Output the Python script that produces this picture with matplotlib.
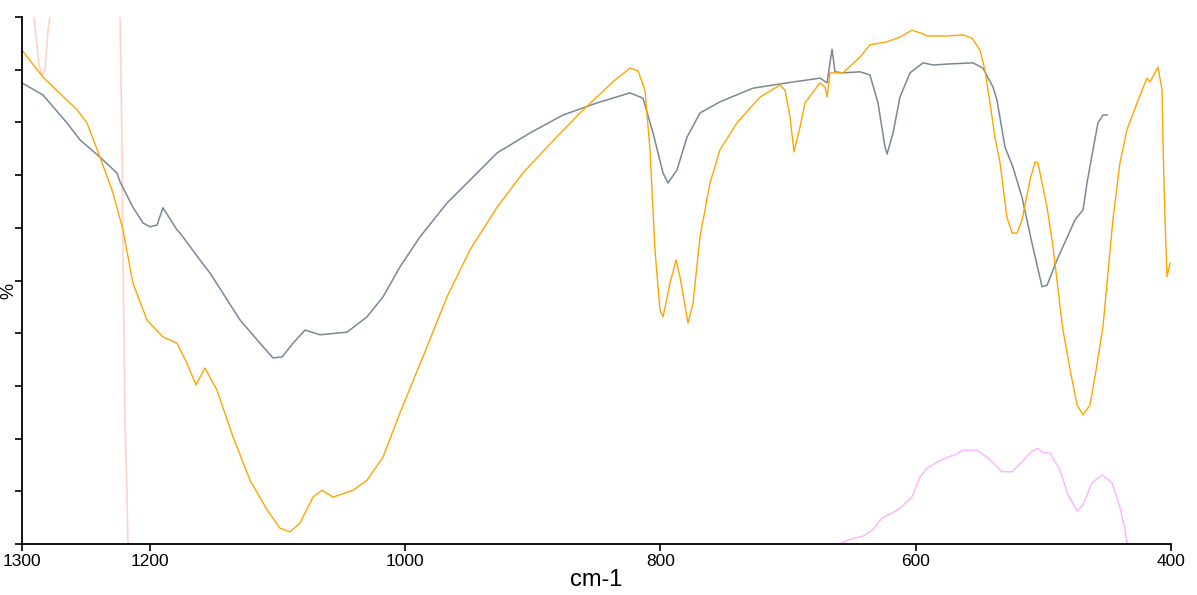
import matplotlib
matplotlib.use('Agg')
import matplotlib.pyplot as plt

plt.rcParams['font.family'] = ['Liberation Sans', 'DejaVu Sans']

# wavenumber (cm-1) and transmittance (%)
GRAY_WN = [1300, 1283.6, 1264.8, 1254.6, 1238.9, 1225.6, 1223.2, 1213.1, 1205.2, 1199.7,
           1194.3, 1189.6, 1178.6, 1176.2, 1160.6, 1152.7, 1129.2, 1113.6, 1103.4, 1096.3,
           1087.7, 1078.3, 1066.6, 1045.4, 1029.8, 1017.2, 1003.9, 988.2, 967.1, 951.4,
           927.9, 902.1, 876.2, 849.6, 823.8, 813.6, 805.7, 797.9, 794.0, 786.9,
           779.1, 768.9, 753.3, 727.4, 700.8, 674.9, 669.4, 665.5, 663.2, 656.9,
           643.6, 635.8, 629.5, 624.0, 622.4, 617.7, 612.3, 604.4, 594.2, 586.4,
           573.1, 555.1, 547.3, 539.4, 536.3, 530.0, 523.8, 516.7, 508.9, 501.0,
           497.1, 489.3, 475.2, 468.9, 465.8, 461.1, 457.2, 453.3, 450.1]
GRAY_T = [87.5, 85.2, 79.9, 76.7, 73.4, 70.4, 68.7, 63.9, 60.9, 60.2,
          60.5, 63.8, 59.6, 59.0, 53.9, 51.4, 42.5, 38.1, 35.3, 35.5,
          38.1, 40.6, 39.7, 40.2, 43.1, 46.9, 52.6, 58.3, 64.7, 68.5,
          74.2, 78.0, 81.4, 83.7, 85.6, 84.6, 78.0, 70.4, 68.5, 71.0,
          77.2, 81.8, 83.9, 86.5, 87.5, 88.4, 87.5, 93.9, 89.6, 89.4,
          89.6, 89.0, 83.7, 75.3, 74.0, 78.0, 84.8, 89.4, 91.3, 90.9,
          91.1, 91.3, 90.3, 86.7, 84.2, 75.3, 71.5, 65.8, 57.1, 48.8,
          49.1, 53.9, 61.5, 63.4, 68.5, 74.8, 79.9, 81.4, 81.4]

ORANGE_WN = [1300, 1283.6, 1256.9, 1249.1, 1238.9, 1228.7, 1220.9, 1213.1, 1202.1, 1189.6,
             1178.6, 1170.8, 1163.7, 1156.7, 1147.3, 1134.7, 1121.4, 1108.1, 1097.9, 1090.1,
             1082.2, 1072.1, 1065.0, 1056.4, 1040.7, 1029.8, 1017.2, 1003.9, 982.8, 967.1,
             949.1, 927.9, 907.6, 888.8, 862.9, 837.1, 823.8, 817.5, 812.0, 808.1,
             804.2, 800.3, 797.9, 792.4, 787.7, 784.6, 778.3, 774.4, 768.9, 761.1,
             753.3, 740.0, 721.9, 706.3, 702.3, 698.4, 695.3, 690.6, 686.7, 674.9,
             671.0, 669.4, 667.1, 656.9, 643.6, 635.8, 622.4, 612.3, 602.9, 594.2,
             591.1, 575.5, 562.9, 555.9, 549.6, 545.7, 541.8, 537.9, 533.9, 528.5,
             524.5, 520.6, 516.7, 510.4, 506.5, 504.2, 497.1, 492.4, 486.9, 484.6,
             479.0, 473.6, 468.9, 463.4, 458.7, 453.3, 445.5, 440.0, 434.5, 426.6,
             418.8, 416.4, 410.2, 407.0, 406.2, 404.7, 403.1, 400.7]
ORANGE_T = [93.7, 88.6, 82.4, 79.9, 73.4, 66.6, 59.6, 49.5, 42.5, 39.3,
            38.1, 34.3, 30.2, 33.4, 29.2, 20.3, 12.1, 6.5, 3.0, 2.3,
            4.0, 8.9, 10.2, 8.9, 10.2, 12.1, 16.5, 24.9, 37.4, 46.9,
            55.8, 63.9, 70.4, 75.3, 81.8, 87.7, 90.3, 89.8, 86.1, 74.8,
            55.8, 44.4, 43.1, 49.5, 53.9, 50.7, 41.9, 45.7, 58.3, 68.5,
            74.8, 79.9, 84.8, 87.1, 86.1, 81.0, 74.4, 79.1, 83.7, 87.5,
            86.7, 84.8, 89.4, 89.4, 92.4, 94.7, 95.3, 96.2, 97.5, 96.8,
            96.4, 96.4, 96.6, 96.0, 93.7, 89.9, 83.7, 77.2, 72.3, 62.0,
            59.0, 59.0, 61.5, 69.1, 72.5, 72.3, 63.9, 56.4, 45.0, 40.6,
            33.0, 26.4, 24.5, 26.4, 33.0, 41.2, 61.5, 72.3, 78.6, 83.7,
            88.4, 87.7, 90.5, 86.1, 75.3, 61.5, 50.7, 53.3]

# mostly off scale, only the steep parts show
SALMON_WN = [1293.7, 1290.6, 1286.7, 1284.3, 1282.0, 1279.6, 1278.1, 1274.2, 1246.7, 1224.0,
             1223.2, 1221.7, 1220.9, 1219.3, 1217.8, 1217.0, 1213.8]
SALMON_T = [130, 100, 90.9, 89.0, 89.9, 97.5, 100, 130, 150, 110,
            100, 75.7, 55.8, 22.6, 10.2, 0, -30]

VIOLET_WN = [670, 657.7, 651.4, 641.2, 633.4, 626.4, 618.5, 612.3, 602.9, 596.6,
             591.1, 578.6, 567.6, 562.9, 552.0, 544.1, 532.4, 524.5, 516.7, 508.9,
             504.2, 500.2, 494.8, 486.9, 480.7, 473.6, 468.9, 461.9, 454.0, 446.2,
             440.0, 436.0, 434.5, 432.1]
VIOLET_T = [-5, 0.2, 0.9, 1.5, 2.7, 4.9, 5.9, 6.8, 8.9, 12.7,
            14.4, 16.1, 17.1, 17.8, 17.8, 16.5, 13.7, 13.7, 15.6, 17.6,
            18.2, 17.3, 17.3, 14.0, 9.3, 6.3, 7.4, 11.6, 13.1, 11.6,
            7.0, 2.7, 0.2, -10]

X_TICKS = [1300, 1200, 1000, 800, 600, 400]


def draw():
    fig = plt.figure(figsize=(11.97, 5.95), dpi=100)
    ax = fig.add_axes([22 / 1197, 51 / 595, 1149 / 1197, 527 / 595])

    ax.plot(SALMON_WN, SALMON_T, color='#ffd3c8', lw=1.2)
    ax.plot(VIOLET_WN, VIOLET_T, color='#ffb0ff', lw=1.0)
    ax.plot(GRAY_WN, GRAY_T, color='#7a8896', lw=1.1)
    ax.plot(ORANGE_WN, ORANGE_T, color='#ffa500', lw=1.0)

    ax.set_xlim(1300, 400)
    ax.set_ylim(0, 100)
    ax.set_xticks(X_TICKS)
    ax.set_xticklabels([str(t) for t in X_TICKS], fontsize=12.5)
    ax.set_yticks(range(0, 101, 10))
    ax.set_yticklabels([])
    ax.tick_params(direction='out', length=5, width=1.2, pad=2)

    for side in ('top', 'right'):
        ax.spines[side].set_visible(False)
    for side in ('left', 'bottom'):
        ax.spines[side].set_linewidth(1.3)

    ax.set_xlabel('cm-1', fontsize=17, labelpad=0)
    ax.set_ylabel('%', fontsize=13)
    ax.yaxis.set_label_coords(-0.004, 0.48)

    fig.savefig('out.png', dpi=100)


if __name__ == '__main__':
    draw()
